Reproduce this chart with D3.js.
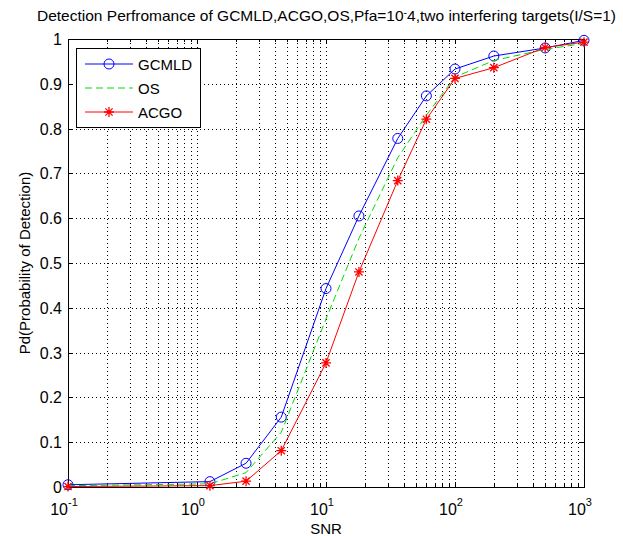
<!DOCTYPE html>
<html>
<head>
<meta charset="utf-8">
<script src="https://cdn.jsdelivr.net/npm/d3@7"></script>
<style>
  body { margin: 0; background: #fff; }
  text { font-family: "Liberation Sans", Arial, sans-serif; fill: #000; }
</style>
</head>
<body>
<div id="my_dataviz"></div>
<script>
// data
const snr = [0.1, 1.26, 2.4, 4.5, 10, 18, 36, 60, 100, 200, 500, 1000];
const gcmld = [0.005, 0.012, 0.053, 0.156, 0.443, 0.605, 0.778, 0.873, 0.933, 0.962, 0.98, 0.997];
const os = [0.003, 0.007, 0.032, 0.122, 0.375, 0.555, 0.735, 0.83, 0.915, 0.952, 0.977, 0.99];
const acgo = [0.001, 0.003, 0.013, 0.081, 0.277, 0.48, 0.684, 0.821, 0.912, 0.936, 0.981, 0.993];
const seriesNames = ["GCMLD", "OS", "ACGO"];
const yTicks = [0, 0.1, 0.2, 0.3, 0.4, 0.5, 0.6, 0.7, 0.8, 0.9, 1];
const xExps = [-1, 0, 1, 2, 3];

const W = 623, H = 536;
const margin = {top: 39, right: 39, bottom: 49, left: 68},
  width = W - margin.left - margin.right,
  height = H - margin.top - margin.bottom;

const root = d3.select("#my_dataviz")
  .append("svg")
    .attr("width", W)
    .attr("height", H);

const svg = root.append("g")
  .attr("transform", "translate(" + margin.left + "," + margin.top + ")");

const x = d3.scaleLog().domain([0.1, 1000]).range([0, width]);
const y = d3.scaleLinear().domain([0, 1]).range([height, 0]);

// minor positions 1..9 in every decade
const xAll = [];
xExps.slice(0, -1).forEach(e => {
  for (let k = 1; k <= 9; k++) xAll.push(k * Math.pow(10, e));
});
xAll.push(1000);

// grid
const grid = svg.append("g")
  .attr("stroke", "#000")
  .attr("stroke-width", 1)
  .attr("stroke-dasharray", "1,3");
grid.selectAll(".vg")
  .data(xAll.slice(1, -1))
  .enter().append("line")
    .attr("x1", d => Math.round(x(d)) + 0.5)
    .attr("x2", d => Math.round(x(d)) + 0.5)
    .attr("y1", 0).attr("y2", height);
grid.selectAll(".hg")
  .data(yTicks.slice(1, -1))
  .enter().append("line")
    .attr("y1", d => Math.round(y(d)) + 0.5)
    .attr("y2", d => Math.round(y(d)) + 0.5)
    .attr("x1", 0).attr("x2", width);

// tick marks inside the box
const ticks = svg.append("g").attr("stroke", "#000").attr("stroke-width", 1);
xAll.forEach(d => {
  const major = xExps.some(e => Math.abs(Math.pow(10, e) - d) < 1e-9);
  const len = major ? 5 : 3;
  const px = Math.round(x(d)) + 0.5;
  ticks.append("line").attr("x1", px).attr("x2", px).attr("y1", height).attr("y2", height - len);
  ticks.append("line").attr("x1", px).attr("x2", px).attr("y1", 0).attr("y2", len);
});
yTicks.forEach(d => {
  const py = Math.round(y(d)) + 0.5;
  ticks.append("line").attr("x1", 0).attr("x2", 5).attr("y1", py).attr("y2", py);
  ticks.append("line").attr("x1", width).attr("x2", width - 5).attr("y1", py).attr("y2", py);
});

// box
svg.append("rect")
  .attr("x", 0.5).attr("y", 0.5)
  .attr("width", width).attr("height", height)
  .attr("fill", "none")
  .attr("stroke", "#000");

// y tick labels
svg.selectAll(".ylab")
  .data(yTicks)
  .enter().append("text")
    .attr("x", -6)
    .attr("y", d => y(d) + 6)
    .attr("text-anchor", "end")
    .attr("font-size", 16)
    .text(d => d);

// x tick labels 10^e
xExps.forEach(e => {
  const t = svg.append("text")
    .attr("x", x(Math.pow(10, e)) - 4)
    .attr("y", height + 28)
    .attr("text-anchor", "middle")
    .attr("font-size", 16);
  t.append("tspan").text("10");
  t.append("tspan").attr("dy", -9).attr("font-size", 11).text(e);
});

// axis titles
svg.append("text")
  .attr("x", width / 2)
  .attr("y", height + 47)
  .attr("text-anchor", "middle")
  .attr("font-size", 15)
  .text("SNR");
svg.append("text")
  .attr("transform", "translate(" + (-38) + "," + (height / 2) + ") rotate(-90)")
  .attr("text-anchor", "middle")
  .attr("font-size", 15)
  .text("Pd(Probability of Detection)");

// title
const title = root.append("text")
  .attr("x", 37)
  .attr("y", 21)
  .attr("font-size", 15)
  .attr("textLength", 579)
  .attr("lengthAdjust", "spacingAndGlyphs");
title.append("tspan").text("Detection Perfromance of GCMLD,ACGO,OS,Pfa=10");
title.append("tspan").attr("dy", -5).attr("font-size", 10).text("-");
title.append("tspan").attr("dy", 5).text("4,two interfering targets(I/S=1)");

// lines
const line = d3.line()
  .x(d => x(d[0]))
  .y(d => y(d[1]));

const series = [
  {name: seriesNames[0], vals: gcmld, color: "#0000ff", dash: null, marker: "circle"},
  {name: seriesNames[1], vals: os, color: "#00dd00", dash: "7,4", marker: null},
  {name: seriesNames[2], vals: acgo, color: "#ff0000", dash: null, marker: "star"}
];

function drawMarker(g, kind, cx, cy, color) {
  if (kind === "circle") {
    g.append("circle")
      .attr("cx", cx).attr("cy", cy).attr("r", 5)
      .attr("fill", "none").attr("stroke", color).attr("stroke-width", 1);
  } else if (kind === "star") {
    const r = 5, s = r * 0.72;
    const p = "M" + (cx - r) + "," + cy + "L" + (cx + r) + "," + cy +
      "M" + cx + "," + (cy - r) + "L" + cx + "," + (cy + r) +
      "M" + (cx - s) + "," + (cy - s) + "L" + (cx + s) + "," + (cy + s) +
      "M" + (cx - s) + "," + (cy + s) + "L" + (cx + s) + "," + (cy - s);
    g.append("path").attr("d", p).attr("stroke", color).attr("stroke-width", 1.3).attr("fill", "none");
  }
}

series.forEach(s => {
  const pts = snr.map((v, i) => [v, s.vals[i]]);
  svg.append("path")
    .datum(pts)
    .attr("d", line)
    .attr("fill", "none")
    .attr("stroke", s.color)
    .attr("stroke-width", 1)
    .attr("stroke-dasharray", s.dash);
  if (s.marker) {
    const g = svg.append("g");
    pts.forEach(p => drawMarker(g, s.marker, x(p[0]), y(p[1]), s.color));
  }
});

// legend
const legend = svg.append("g").attr("transform", "translate(8,9)");
legend.append("rect")
  .attr("x", 0.5).attr("y", 0.5)
  .attr("width", 124).attr("height", 79)
  .attr("fill", "#fff")
  .attr("stroke", "#000");
series.forEach((s, i) => {
  const ly = 16 + i * 24;
  legend.append("line")
    .attr("x1", 9).attr("x2", 57)
    .attr("y1", ly).attr("y2", ly)
    .attr("stroke", s.color)
    .attr("stroke-dasharray", s.dash);
  if (s.marker) drawMarker(legend, s.marker, 33, ly, s.color);
  legend.append("text")
    .attr("x", 62).attr("y", ly + 6)
    .attr("font-size", 15)
    .text(s.name);
});
</script>
</body>
</html>
